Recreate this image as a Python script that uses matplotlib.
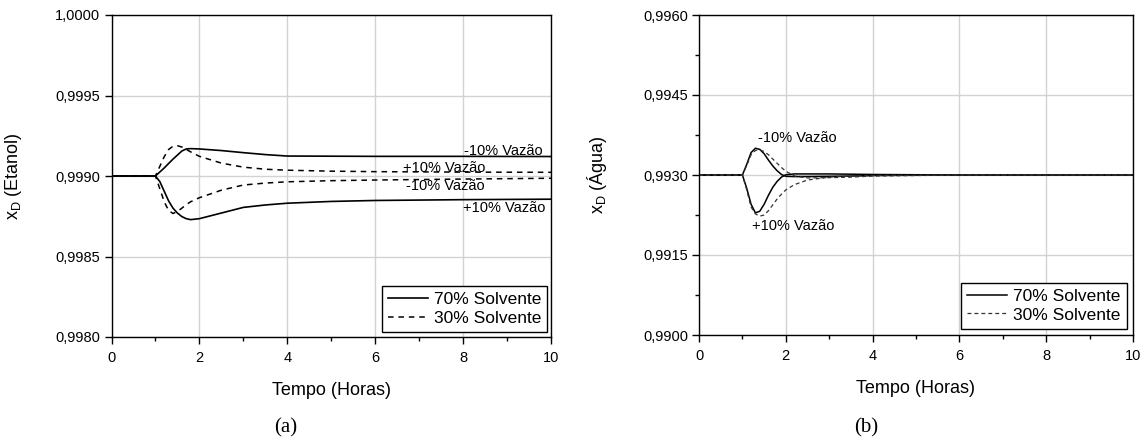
import numpy as np
import matplotlib
matplotlib.use('Agg')
import matplotlib.pyplot as plt
from matplotlib.ticker import FixedLocator

plt.rcParams['font.family'] = ['Liberation Sans', 'DejaVu Sans']
plt.rcParams['mathtext.fontset'] = 'custom'
plt.rcParams['mathtext.rm'] = 'Liberation Sans'
plt.rcParams['lines.scale_dashes'] = False

# (a) etanol
t_a = [0, 1, 1.1, 1.2, 1.3, 1.4, 1.5, 1.6, 1.7, 1.8, 2.0, 2.5, 3, 3.5, 4, 5, 6, 8, 10]
a70_menos = [0.99900, 0.99900, 0.999025, 0.999050, 0.999078, 0.999105, 0.999130, 0.999155, 0.999168,
             0.999170, 0.999168, 0.999158, 0.999145, 0.999133, 0.999124, 0.999123, 0.999122, 0.999122, 0.999121]
a70_mais = [0.99900, 0.99900, 0.998965, 0.998905, 0.998845, 0.998800, 0.998770, 0.998748, 0.998735,
            0.998729, 0.998735, 0.998770, 0.998805, 0.998820, 0.998831, 0.998842, 0.998848, 0.998853, 0.998856]
a30_cima = [0.99900, 0.99900, 0.999060, 0.999120, 0.999165, 0.999185, 0.999188, 0.999180, 0.999165,
            0.999150, 0.999122, 0.999080, 0.999055, 0.999042, 0.999036, 0.999030, 0.999027, 0.999024, 0.999023]
a30_baixo = [0.99900, 0.99900, 0.998920, 0.998840, 0.998785, 0.998767, 0.998780, 0.998800, 0.998822,
             0.998840, 0.998865, 0.998912, 0.998944, 0.998956, 0.998964, 0.998971, 0.998975, 0.998981, 0.998986]

# (b) agua
t_b = [0, 1, 1.1, 1.2, 1.3, 1.4, 1.5, 1.6, 1.7, 1.8, 1.9, 2.0, 2.2, 2.5, 3, 3.5, 4, 5, 6, 8, 10]
b70_cima = [0.99300, 0.99300, 0.99320, 0.99342, 0.993502, 0.99348, 0.99340, 0.99328, 0.99317, 0.99308,
            0.99301, 0.992975, 0.99297, 0.99297, 0.992975, 0.99298, 0.99299, 0.992995, 0.99300, 0.99300, 0.99300]
b70_baixo = [0.99300, 0.99300, 0.99275, 0.99245, 0.99229, 0.99232, 0.99245, 0.99262, 0.99277, 0.99288,
             0.99296, 0.993005, 0.99302, 0.99302, 0.99302, 0.993015, 0.99301, 0.993005, 0.99300, 0.99300, 0.99300]
b30_cima = [0.99300, 0.99300, 0.99318, 0.99338, 0.99346, 0.993472, 0.99344, 0.99338, 0.99330, 0.99322,
            0.99314, 0.99307, 0.99298, 0.992945, 0.99295, 0.99296, 0.99298, 0.99299, 0.99300, 0.99300, 0.99300]
b30_baixo = [0.99300, 0.99300, 0.99272, 0.99240, 0.99227, 0.992228, 0.99225, 0.99233, 0.99244, 0.99255,
             0.99264, 0.99272, 0.99282, 0.992906, 0.99296, 0.99298, 0.99299, 0.992995, 0.99300, 0.99300, 0.99300]

x_ticks = [0, 2, 4, 6, 8, 10]
x_minor = [1, 3, 5, 7, 9]
ya_ticks = [0.9980, 0.9985, 0.9990, 0.9995, 1.0000]
ya_labels = ['0,9980', '0,9985', '0,9990', '0,9995', '1,0000']
yb_ticks = [0.9900, 0.9915, 0.9930, 0.9945, 0.9960]
yb_labels = ['0,9900', '0,9915', '0,9930', '0,9945', '0,9960']
yb_minor = [0.99075, 0.99225, 0.99375, 0.99525]

fig = plt.figure(figsize=(11.47, 4.41), dpi=100)
ax1 = fig.add_axes([111.5/1147, 1 - 337/441, 439.5/1147, 322/441])
ax2 = fig.add_axes([699/1147, 1 - 335/441, 434/1147, 320/441])


def estilo(ax, yt, yl, ylim, ylabel, yminor=None):
    ax.set_xlim(0, 10)
    ax.set_ylim(*ylim)
    ax.set_xticks(x_ticks)
    ax.set_xticklabels([str(v) for v in x_ticks])
    ax.xaxis.set_minor_locator(FixedLocator(x_minor))
    ax.set_yticks(yt)
    ax.set_yticklabels(yl)
    if yminor:
        ax.yaxis.set_minor_locator(FixedLocator(yminor))
    ax.grid(True, which='major', color='#d2d2d2', lw=1.0)
    ax.set_axisbelow(True)
    ax.tick_params(which='major', direction='out', length=5, width=1.0, labelsize=10.5, pad=3)
    ax.tick_params(which='minor', direction='out', length=3, width=1.0)
    ax.tick_params(axis='x', pad=5)
    for s in ax.spines.values():
        s.set_linewidth(1.0)
    ax.set_xlabel('Tempo (Horas)', fontsize=13)
    ax.xaxis.set_label_coords(0.5, -0.14)
    ax.set_ylabel(ylabel, fontsize=13)


# painel (a)
ax1.plot(t_a, a70_menos, color='black', lw=1.2, label='70% Solvente')
ax1.plot(t_a, a70_mais, color='black', lw=1.2)
ax1.plot(t_a, a30_cima, color='black', lw=1.1, dashes=(4, 3.5), label='30% Solvente')
ax1.plot(t_a, a30_baixo, color='black', lw=1.1, dashes=(4, 3.5))
estilo(ax1, ya_ticks, ya_labels, (0.9980, 1.0000), r'x$_\mathregular{D}$ (Etanol)')
ax1.yaxis.set_label_coords(-0.20, 0.5)
ax1.text(9.8, 0.999156, '-10% Vazão', fontsize=10.5, ha='right', va='center')
ax1.text(8.5, 0.999052, '+10% Vazão', fontsize=10.5, ha='right', va='center')
ax1.text(8.5, 0.998938, '-10% Vazão', fontsize=10.5, ha='right', va='center')
ax1.text(9.87, 0.998802, '+10% Vazão', fontsize=10.5, ha='right', va='center')
leg1 = ax1.legend(loc='lower right', bbox_to_anchor=(0.991, 0.0155), borderaxespad=0,
                  fontsize=12.5, handlelength=2.3, handletextpad=0.35, labelspacing=0.2,
                  borderpad=0.35, fancybox=False, framealpha=1, edgecolor='black')
leg1.get_frame().set_linewidth(1.0)

# painel (b)
ax2.plot(t_b, b70_cima, color='black', lw=1.1, label='70% Solvente')
ax2.plot(t_b, b70_baixo, color='black', lw=1.1)
ax2.plot(t_b, b30_cima, color='#333333', lw=0.9, dashes=(2.8, 2.2), label='30% Solvente')
ax2.plot(t_b, b30_baixo, color='#333333', lw=0.9, dashes=(2.8, 2.2))
estilo(ax2, yb_ticks, yb_labels, (0.9900, 0.9960), r'x$_\mathregular{D}$ (Água)', yb_minor)
ax2.yaxis.set_label_coords(-0.207, 0.5)
ax2.text(1.35, 0.993694, '-10% Vazão', fontsize=10.5, ha='left', va='center')
ax2.text(1.23, 0.992048, '+10% Vazão', fontsize=10.5, ha='left', va='center')
leg2 = ax2.legend(loc='lower right', bbox_to_anchor=(0.986, 0.02), borderaxespad=0,
                  fontsize=12.5, handlelength=2.3, handletextpad=0.35, labelspacing=0.2,
                  borderpad=0.35, fancybox=False, framealpha=1, edgecolor='black')
leg2.get_frame().set_linewidth(1.0)

fig.text(286/1147, 1 - 428/441, '(a)', fontsize=15, family=['Liberation Serif', 'DejaVu Serif'],
         ha='center', va='center')
fig.text(866/1147, 1 - 428/441, '(b)', fontsize=15, family=['Liberation Serif', 'DejaVu Serif'],
         ha='center', va='center')

fig.savefig('out.png', dpi=100)
